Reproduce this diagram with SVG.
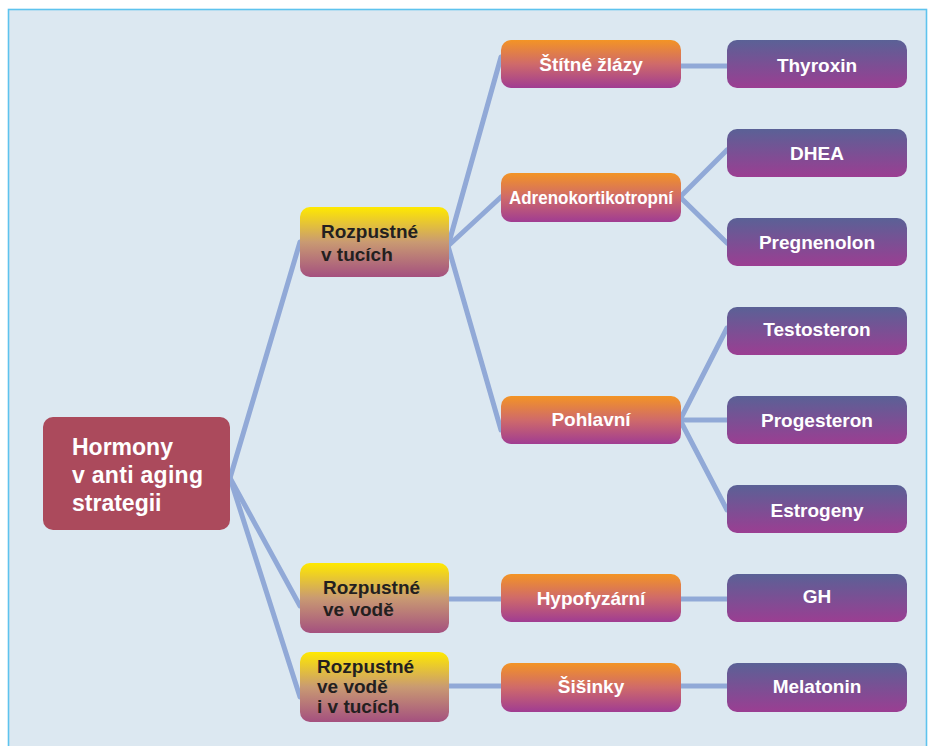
<svg xmlns="http://www.w3.org/2000/svg" width="932" height="746" viewBox="0 0 932 746">
  <defs>
    <linearGradient id="gYellow" x1="0" y1="0" x2="0" y2="1">
      <stop offset="0" stop-color="#ffe900"/>
      <stop offset="0.5" stop-color="#c99a72"/>
      <stop offset="1" stop-color="#a4507f"/>
    </linearGradient>
    <linearGradient id="gOrange" x1="0" y1="0" x2="0" y2="1">
      <stop offset="0" stop-color="#f39425"/>
      <stop offset="0.5" stop-color="#cf6a6a"/>
      <stop offset="1" stop-color="#a03c92"/>
    </linearGradient>
    <linearGradient id="gPurple" x1="0" y1="0" x2="0" y2="1">
      <stop offset="0" stop-color="#5a6196"/>
      <stop offset="1" stop-color="#9b3e92"/>
    </linearGradient>
  </defs>
  <style>
    .link { stroke: #91a9d7; stroke-width: 5; fill: none; stroke-linecap: round; }
    .root { fill: #ab4a5c; }
    .lvl1 { fill: url(#gYellow); }
    .lvl2 { fill: url(#gOrange); }
    .lvl3 { fill: url(#gPurple); }
    text { font-family: "Liberation Sans", Arial, sans-serif; font-weight: bold; }
    .w { fill: #ffffff; font-size: 19px; text-anchor: middle; }
    .d { fill: #231f20; font-size: 19px; }
    .big { fill: #ffffff; font-size: 23px; }
  </style>

  <!-- panel -->
  <rect x="8.5" y="9.5" width="918" height="760" fill="#dce8f1" stroke="#5ec3ee" stroke-width="1.6"/>

  <g id="connectors">
    <line class="link" x1="230" y1="478" x2="300" y2="242"/>
    <line class="link" x1="230" y1="478" x2="300" y2="606"/>
    <line class="link" x1="230" y1="478" x2="300" y2="697"/>
    <line class="link" x1="448" y1="246" x2="501" y2="57"/>
    <line class="link" x1="448" y1="246" x2="501" y2="197"/>
    <line class="link" x1="448" y1="246" x2="501" y2="430"/>
    <line class="link" x1="680" y1="66" x2="727" y2="66"/>
    <line class="link" x1="680" y1="197" x2="727" y2="150"/>
    <line class="link" x1="680" y1="197" x2="727" y2="243"/>
    <line class="link" x1="680" y1="420" x2="727" y2="328"/>
    <line class="link" x1="680" y1="420" x2="727" y2="420"/>
    <line class="link" x1="680" y1="420" x2="727" y2="510"/>
    <line class="link" x1="448" y1="599" x2="501" y2="599"/>
    <line class="link" x1="680" y1="599" x2="727" y2="599"/>
    <line class="link" x1="448" y1="686" x2="501" y2="686"/>
    <line class="link" x1="680" y1="686" x2="727" y2="686"/>
  </g>

  <g id="root">
    <rect class="root" x="43" y="417" width="187" height="113" rx="10"/>
    <text class="big" x="72" y="455">Hormony</text>
    <text class="big" x="72" y="483" textLength="131" lengthAdjust="spacing">v anti aging</text>
    <text class="big" x="72" y="511">strategii</text>
  </g>

  <g id="fat-soluble">
    <rect class="lvl1" x="300" y="207" width="149" height="70" rx="10"/>
    <text class="d" x="321" y="238">Rozpustné</text>
    <text class="d" x="321" y="261">v tucích</text>
  </g>
  <g id="water-soluble">
    <rect class="lvl1" x="300" y="563" width="149" height="70" rx="10"/>
    <text class="d" x="323" y="594">Rozpustné</text>
    <text class="d" x="323" y="616">ve vodě</text>
  </g>
  <g id="both-soluble">
    <rect class="lvl1" x="300" y="652" width="149" height="70" rx="10"/>
    <text class="d" x="317" y="673">Rozpustné</text>
    <text class="d" x="317" y="693">ve vodě</text>
    <text class="d" x="317" y="713">i v tucích</text>
  </g>

  <g id="thyroid">
    <rect class="lvl2" x="501" y="40" width="180" height="48" rx="10"/>
    <text class="w" x="591" y="71">Štítné žlázy</text>
  </g>
  <g id="adrenocorticotropic">
    <rect class="lvl2" x="501" y="173" width="180" height="49" rx="10"/>
    <text class="w" x="591" y="204" textLength="164" lengthAdjust="spacingAndGlyphs">Adrenokortikotropní</text>
  </g>
  <g id="sexual">
    <rect class="lvl2" x="501" y="396" width="180" height="48" rx="10"/>
    <text class="w" x="591" y="426">Pohlavní</text>
  </g>
  <g id="pituitary">
    <rect class="lvl2" x="501" y="574" width="180" height="48" rx="10"/>
    <text class="w" x="591" y="605">Hypofyzární</text>
  </g>
  <g id="pineal">
    <rect class="lvl2" x="501" y="663" width="180" height="49" rx="10"/>
    <text class="w" x="591" y="693">Šišinky</text>
  </g>

  <g id="thyroxin">
    <rect class="lvl3" x="727" y="40" width="180" height="48" rx="10"/>
    <text class="w" x="817" y="72">Thyroxin</text>
  </g>
  <g id="dhea">
    <rect class="lvl3" x="727" y="129" width="180" height="48" rx="10"/>
    <text class="w" x="817" y="160">DHEA</text>
  </g>
  <g id="pregnenolon">
    <rect class="lvl3" x="727" y="218" width="180" height="48" rx="10"/>
    <text class="w" x="817" y="249">Pregnenolon</text>
  </g>
  <g id="testosteron">
    <rect class="lvl3" x="727" y="307" width="180" height="48" rx="10"/>
    <text class="w" x="817" y="336">Testosteron</text>
  </g>
  <g id="progesteron">
    <rect class="lvl3" x="727" y="396" width="180" height="48" rx="10"/>
    <text class="w" x="817" y="427">Progesteron</text>
  </g>
  <g id="estrogeny">
    <rect class="lvl3" x="727" y="485" width="180" height="48" rx="10"/>
    <text class="w" x="817" y="517">Estrogeny</text>
  </g>
  <g id="gh">
    <rect class="lvl3" x="727" y="574" width="180" height="48" rx="10"/>
    <text class="w" x="817" y="603">GH</text>
  </g>
  <g id="melatonin">
    <rect class="lvl3" x="727" y="663" width="180" height="49" rx="10"/>
    <text class="w" x="817" y="693">Melatonin</text>
  </g>
</svg>
